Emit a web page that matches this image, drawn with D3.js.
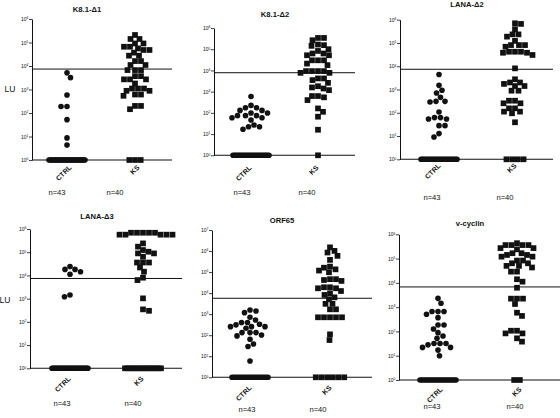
<!DOCTYPE html>
<html><head><meta charset="utf-8">
<script src="https://cdn.jsdelivr.net/npm/d3@7"></script>
<style>body{margin:0;background:#fff}svg{display:block;font-family:"Liberation Sans",Arial,Helvetica,sans-serif}</style>
</head><body><svg id="c" width="560" height="418"></svg>
<script>
const categories = ["CTRL", "KS"];
const titles = ["K8.1-Δ1", "K8.1-Δ2", "LANA-Δ2", "LANA-Δ3", "ORF65", "v-cyclin"];
const nLabels = ["n=43", "n=40"];
const cutoffs = [7400, 7800, 7400, 7400, 5700, 6800];
const yMaxExp = [6, 6, 6, 6, 7, 6];

const k81d1Ctrl = [5100,3200,580,190,190,52,8.7,4.3,
  1,1,1,1,1,1,1,1,1,1,1,1,1,1,1,1,1,1,1,1,1,1,1,1,1,1,1,1,1,1,1,1,1,1,1];
const k81d1Ks = [209000,141000,141000,91000,91000,66000,66000,56000,48000,48000,37000,27500,27500,
  16200,16200,11000,11000,6700,6700,6700,3700,3700,2700,2700,2700,1800,1100,1100,1100,880,880,
  610,610,540,200,200,145,1,1,1];

const k81d2Ctrl = [590,225,175,175,131,131,98,98,74,74,74,59,59,46,27,22,22,17,
  1,1,1,1,1,1,1,1,1,1,1,1,1,1,1,1,1,1,1,1,1,1,1,1,1];
const k81d2Ks = [340000,340000,265000,166000,155000,144000,100000,83000,63000,63000,52000,52000,
  30000,30000,30000,21000,17800,9300,9300,9300,9300,7700,7700,4200,4200,3500,2600,1800,1580,1410,
  1180,620,620,540,400,162,112,66,16,1];

const lanad2Ctrl = [4400,1510,930,710,460,310,310,290,108,62,62,54,54,28,28,12.7,9.1,
  1,1,1,1,1,1,1,1,1,1,1,1,1,1,1,1,1,1,1,1,1,1,1,1,1,1];
const lanad2Ks = [700000,660000,390000,234000,234000,187000,123000,81000,81000,81000,69000,42000,
  42000,42000,38000,38000,30500,8100,2750,2000,2000,1740,1410,1410,890,890,330,330,255,255,155,155,
  112,112,95,39,1,1,1,1];

const lanad3Ctrl = [24000,18200,18200,14500,11200,1440,1210,
  1,1,1,1,1,1,1,1,1,1,1,1,1,1,1,1,1,1,1,1,1,1,1,1,1,1,1,1,1,1,1,1,1,1,1,1];
const lanad3Ks = [690000,690000,690000,690000,690000,570000,570000,570000,570000,570000,240000,174000,
  124000,105000,89000,89000,64000,36000,36000,36000,22000,14500,8000,6300,1030,345,300,
  1,1,1,1,1,1,1,1,1,1,1,1,1];

const orf65Ctrl = [1580,1420,1180,710,530,400,400,330,310,255,255,255,215,133,133,133,103,93,64,38,29,6,
  1,1,1,1,1,1,1,1,1,1,1,1,1,1,1,1,1,1,1,1,1];
const orf65Ks = [1500000,1020000,850000,590000,380000,182000,162000,135000,118000,98000,46000,46000,
  42000,38000,19000,19000,17000,17000,12600,9800,8200,6300,5100,3100,3100,1700,1700,710,710,710,710,
  710,110,59,1,1,1,1,1,1];

const vcycCtrl = [2300,1440,660,660,660,510,370,185,185,126,89,65,52,32,32,32,28,22,22,17,10,
  1,1,1,1,1,1,1,1,1,1,1,1,1,1,1,1,1,1,1,1,1,1];
const vcycKs = [430000,360000,360000,360000,360000,270000,270000,240000,166000,166000,141000,141000,
  120000,120000,83000,83000,64000,64000,50000,50000,43000,29000,29000,14100,11200,6300,2240,2240,2240,
  1350,590,435,107,107,83,83,52,38,1,1];

const series = [
  [k81d1Ctrl, k81d1Ks], [k81d2Ctrl, k81d2Ks], [lanad2Ctrl, lanad2Ks],
  [lanad3Ctrl, lanad3Ks], [orf65Ctrl, orf65Ks], [vcycCtrl, vcycKs]
];

// layout (pixel geometry of each small panel)
const layout = [
  {ax:32,  top:19,    bot:160,   right:172, cx:[67,135],  tx:87,  ty:11.7,  nx:[57,115],  ny:195, lab:[5,8],  lu:[10,92]},
  {ax:214, top:28,    bot:155.3, right:355, cx:[251,318], tx:275, ty:17,    nx:[242,307], ny:195, lab:[1,13]},
  {ax:400, top:19.7,  bot:159.3, right:553, cx:[439,515], tx:467, ty:6.5,   nx:[432,505], ny:200, lab:[2,7]},
  {ax:30,  top:229,   bot:368.3, right:182, cx:[70,143],  tx:97,  ty:218.5, nx:[62,133],  ny:406, lab:[1,11], lu:[5,303]},
  {ax:212, top:230,   bot:377.3, right:372, cx:[250,330], tx:282, ty:222.5, nx:[247,318], ny:412, lab:[2,11]},
  {ax:399, top:234.3, bot:380,   right:560, cx:[438,517], tx:470, ty:226,   nx:[432,515], ny:409, lab:[5,10]}
];

const INK = "#111";
const D = 5.7, ROWMAX = 36;

// beeswarm: each point takes the horizontal offset closest to the centre that keeps it D px from the others
function swarm(values, y, cx) {
  const out = [];
  const base = values.filter(v => v <= 1);
  const rest = values.filter(v => v > 1).sort((a, b) => b - a);
  const placed = [];
  let side = 1;
  rest.forEach(v => {
    const py = y(v);
    for (let k = 0; k < 400; k++) {
      const m = Math.ceil(k / 2) * 0.5;
      const dx = k === 0 ? 0 : (k % 2 ? side * m : -side * m);
      if (!placed.some(p => (p.dx - dx) ** 2 + (p.y - py) ** 2 < D * D)) {
        placed.push({dx, y: py});
        if (dx !== 0) side = -Math.sign(dx);
        break;
      }
    }
  });
  placed.forEach(p => out.push({x: cx + p.dx, y: p.y}));
  const n = base.length;
  const sp = n > 1 ? Math.min(D, ROWMAX / (n - 1)) : 0;
  base.forEach((v, i) => out.push({x: cx + (i - (n - 1) / 2) * sp, y: y(v)}));
  return out;
}

const svg = d3.select("#c");

layout.forEach((L, pi) => {
  const g = svg.append("g");
  const maxExp = yMaxExp[pi];
  const y = d3.scaleLog().domain([1, Math.pow(10, maxExp)]).range([L.bot, L.top]);
  const x = d3.scalePoint().domain(categories).range(L.cx);
  const decades = d3.range(0, maxExp + 1).map(e => Math.pow(10, e));

  // y axis
  const ax = g.append("g").attr("transform", `translate(${L.ax},0)`)
    .call(d3.axisLeft(y).tickValues(decades).tickSize(3).tickSizeOuter(0).tickPadding(0.6).tickFormat(() => ""));
  ax.select(".domain").attr("stroke", INK).attr("stroke-width", 1);
  ax.selectAll(".tick line").attr("stroke", INK).attr("stroke-width", 0.8);
  ax.selectAll(".tick text").each(function(d) {
    const t = d3.select(this).attr("font-size", 5).attr("fill", INK).attr("font-family", "Liberation Sans, Arial, sans-serif");
    t.append("tspan").text("10");
    t.append("tspan").attr("font-size", 3.4).attr("dy", -1.8).text(Math.round(Math.log10(d)));
  });

  // x baseline
  g.append("line").attr("x1", L.ax).attr("x2", L.right).attr("y1", y(1)).attr("y2", y(1))
    .attr("stroke", INK).attr("stroke-width", 1.1);

  // cutoff line
  g.append("line").attr("x1", L.ax).attr("x2", L.right).attr("y1", y(cutoffs[pi])).attr("y2", y(cutoffs[pi]))
    .attr("stroke", INK).attr("stroke-width", 1);

  // points
  const [ctrl, ks] = series[pi];
  g.append("g").selectAll("circle").data(swarm(ctrl, y, x("CTRL"))).join("circle")
    .attr("cx", d => d.x).attr("cy", d => d.y).attr("r", 2.8).attr("fill", INK);
  const s = 5.7;
  g.append("g").selectAll("rect").data(swarm(ks, y, x("KS"))).join("rect")
    .attr("x", d => d.x - s / 2).attr("y", d => d.y - s / 2).attr("width", s).attr("height", s).attr("fill", INK);

  // title
  g.append("text").attr("x", L.tx).attr("y", L.ty).attr("text-anchor", "middle")
    .attr("font-size", 7.6).attr("font-weight", "bold").attr("fill", INK).text(titles[pi]);

  // category labels
  categories.forEach(c => {
    const px = x(c) + L.lab[0], py = L.bot + L.lab[1];
    g.append("text").attr("transform", `translate(${px},${py}) rotate(-45)`).attr("text-anchor", "end")
      .attr("font-size", 7).attr("font-weight", "bold").attr("fill", INK).text(c);
  });

  // n labels
  nLabels.forEach((t, i) => {
    g.append("text").attr("x", L.nx[i]).attr("y", L.ny).attr("text-anchor", "middle")
      .attr("font-size", 7.6).attr("fill", INK).text(t);
  });

  if (L.lu) {
    g.append("text").attr("x", L.lu[0]).attr("y", L.lu[1]).attr("text-anchor", "middle")
      .attr("font-size", 8.5).attr("fill", INK).text("LU");
  }
});
</script></body></html>
